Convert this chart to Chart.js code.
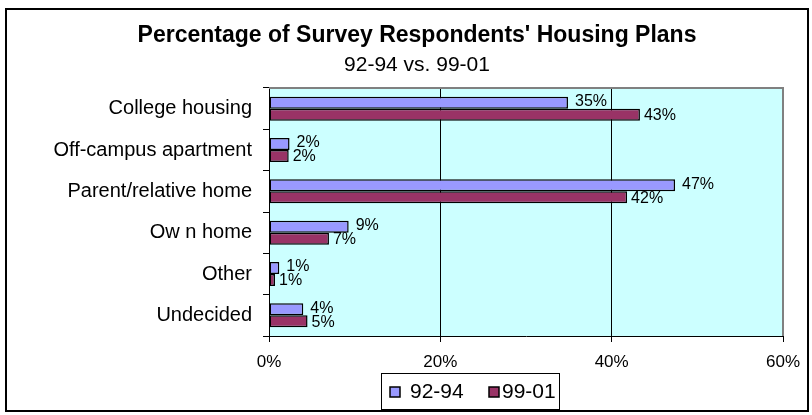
<!DOCTYPE html>
<html>
<head>
<meta charset="utf-8">
<script src="https://cdn.jsdelivr.net/npm/chart.js@4.4.0/dist/chart.umd.min.js"></script>
<style>
  body { margin: 0; background: #fff; }
</style>
</head>
<body>
<canvas id="myChart" width="812" height="415"></canvas>
<script>
// survey housing plans, two periods
var categorias = ['College housing', 'Off-campus apartment', 'Parent/relative home', 'Ow n home', 'Other', 'Undecided']
var periodo1 = [34.9, 2.4, 47.4, 9.3, 1.2, 4.0]
var periodo2 = [43.3, 2.3, 41.8, 7.0, 0.7, 4.5]
var nomesSeries = ['92-94', '99-01']
var xTicks = [0, 20, 40, 60]

var titulo = "Percentage of Survey Respondents' Housing Plans"
var subtitulo = '92-94 vs. 99-01'

var fonte = "'Liberation Sans', Arial, sans-serif"
var cores = ['#9999FF', '#993366']

Chart.defaults.font.family = fonte
Chart.defaults.color = '#000'

// fundo, borda externa, titulo e legenda desenhados a mao
const extras = {
    id: 'extras',
    beforeDraw(chart) {
        const c = chart.ctx
        const a = chart.chartArea
        c.save()
        c.fillStyle = '#fff'
        c.fillRect(0, 0, chart.width, chart.height)
        c.fillStyle = '#CCFFFF'
        c.fillRect(a.left, a.top, a.right - a.left, a.bottom - a.top)
        c.restore()
    },
    afterDatasetsDraw(chart) {
        const c = chart.ctx
        c.save()
        c.font = '16px ' + fonte
        c.fillStyle = '#000'
        c.textAlign = 'left'
        c.textBaseline = 'middle'
        chart.data.datasets.forEach((ds, i) => {
            chart.getDatasetMeta(i).data.forEach((bar, j) => {
                const txt = Math.round(ds.data[j]) + '%'
                c.fillText(txt, bar.x + (i === 0 ? 7 : 4), bar.y + (i === 0 ? -1 : 1))
            })
        })
        c.restore()
    },
    afterDraw(chart) {
        const c = chart.ctx
        const a = chart.chartArea
        c.save()
        // borda cinza do plot
        c.strokeStyle = '#808080'
        c.lineWidth = 2
        c.beginPath()
        c.moveTo(a.left, a.top)
        c.lineTo(a.right, a.top)
        c.lineTo(a.right, a.bottom)
        c.stroke()

        // borda externa
        c.strokeStyle = '#000'
        c.lineWidth = 2
        c.strokeRect(6, 9, 802, 402)

        // titulo
        c.fillStyle = '#000'
        c.textAlign = 'center'
        c.textBaseline = 'middle'
        c.font = 'bold 23px ' + fonte
        c.fillText(titulo, 417, 36)
        c.font = '21px ' + fonte
        c.fillText(subtitulo, 417, 65)

        // legenda
        c.lineWidth = 1
        c.strokeStyle = '#000'
        c.strokeRect(381.5, 373.5, 178, 36)
        const itens = [[390, 410], [489, 502]]
        c.font = '21px ' + fonte
        c.textAlign = 'left'
        itens.forEach((p, i) => {
            c.fillStyle = cores[i]
            c.fillRect(p[0], 387, 10, 10)
            c.lineWidth = 1.5
            c.strokeRect(p[0], 387, 10, 10)
            c.fillStyle = '#000'
            c.fillText(nomesSeries[i], p[1], 392)
        })
        c.restore()
    }
}

var ctx = document.getElementById('myChart')

new Chart(ctx, {
    type: 'bar',
    data: {
        labels: categorias,
        datasets: [{
            label: nomesSeries[0],
            data: periodo1,
            backgroundColor: cores[0],
            borderColor: '#000',
            borderWidth: 1.5,
            borderSkipped: false
        }, {
            label: nomesSeries[1],
            data: periodo2,
            backgroundColor: cores[1],
            borderColor: '#000',
            borderWidth: 1.5,
            borderSkipped: false
        }]
    },
    options: {
        responsive: false,
        animation: false,
        indexAxis: 'y',
        categoryPercentage: 0.58,
        barPercentage: 1,
        layout: {
            padding: { top: 88, left: 0, right: 29, bottom: 39 }
        },
        plugins: {
            legend: { display: false },
            title: { display: false },
            tooltip: { enabled: false }
        },
        scales: {
            x: {
                min: xTicks[0],
                max: xTicks[xTicks.length - 1],
                afterBuildTicks: (s) => { s.ticks = xTicks.map(v => ({ value: v })) },
                afterFit: (s) => { s.height = 40; s.paddingLeft = 0; s.paddingRight = 0 },
                ticks: {
                    callback: (v) => v + '%',
                    font: { size: 17 },
                    color: '#000',
                    padding: 10,
                    maxRotation: 0
                },
                grid: {
                    color: (c) => (c.tick && (c.tick.value === 20 || c.tick.value === 40)) ? '#000' : 'rgba(0,0,0,0)',
                    tickColor: '#000',
                    tickLength: 6,
                    lineWidth: 1
                },
                border: { display: true, color: '#000', width: 1 }
            },
            y: {
                afterFit: (s) => { s.width = 269; s.paddingTop = 0; s.paddingBottom = 0 },
                ticks: {
                    font: { size: 20 },
                    color: '#000',
                    padding: 11
                },
                grid: {
                    offset: true,
                    drawOnChartArea: false,
                    tickColor: '#000',
                    tickLength: 6
                },
                border: { display: true, color: '#000', width: 1 }
            }
        }
    },
    plugins: [extras]
})
</script>
</body>
</html>
